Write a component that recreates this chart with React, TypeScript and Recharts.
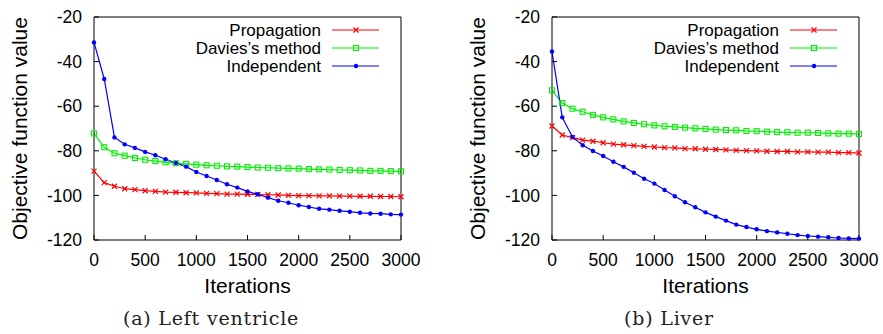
import React from "react";
import { LineChart, Line, XAxis, YAxis, Legend, Label } from "recharts";

const iterations = [
  0, 100, 200, 300, 400, 500, 600, 700, 800, 900, 1000, 1100, 1200, 1300, 1400, 1500,
  1600, 1700, 1800, 1900, 2000, 2100, 2200, 2300, 2400, 2500, 2600, 2700, 2800, 2900, 3000,
];

// (a) Left ventricle
const propLV = [
  -89.1, -94.3, -95.9, -97.0, -97.4, -97.9, -98.2, -98.5, -98.6, -98.8, -98.9, -99.1, -99.2,
  -99.4, -99.4, -99.5, -99.6, -99.7, -99.8, -100.0, -100.1, -100.1, -100.2, -100.2, -100.3,
  -100.3, -100.4, -100.4, -100.5, -100.5, -100.6,
];
const daviesLV = [
  -72.2, -78.4, -81.1, -82.2, -83.2, -84.0, -84.6, -85.2, -85.6, -85.9, -86.2, -86.5, -86.7,
  -87.0, -87.1, -87.3, -87.5, -87.6, -87.8, -87.9, -88.0, -88.2, -88.3, -88.4, -88.6, -88.7,
  -88.8, -89.0, -89.0, -89.1, -89.2,
];
const indepLV = [
  -31.4, -47.8, -74.0, -77.1, -78.7, -80.5, -82.0, -83.8, -85.5, -87.1, -89.5, -91.3, -93.1,
  -95.0, -96.5, -98.2, -99.5, -101.0, -102.4, -103.3, -104.4, -105.2, -106.0, -106.4, -106.9,
  -107.3, -107.8, -108.1, -108.2, -108.5, -108.6,
];

// (b) Liver
const propLiver = [
  -68.9, -72.9, -74.1, -75.2, -75.7, -76.4, -77.0, -77.3, -77.7, -78.0, -78.3, -78.6, -78.7,
  -79.0, -79.1, -79.3, -79.4, -79.6, -79.8, -79.9, -80.0, -80.2, -80.3, -80.3, -80.5, -80.5,
  -80.6, -80.6, -80.8, -80.8, -81.0,
];
const daviesLiver = [
  -52.9, -58.6, -61.1, -62.5, -63.9, -65.0, -65.9, -66.8, -67.5, -68.1, -68.6, -69.0, -69.3,
  -69.6, -69.9, -70.2, -70.5, -70.7, -70.8, -71.1, -71.2, -71.4, -71.6, -71.7, -71.9, -71.9,
  -72.0, -72.2, -72.3, -72.3, -72.5,
];
const indepLiver = [
  -35.5, -65.0, -73.8, -77.5, -80.1, -82.3, -84.9, -87.2, -89.8, -92.5, -94.7, -97.6, -100.4,
  -103.1, -105.3, -107.6, -109.5, -111.3, -113.1, -114.2, -115.2, -116.0, -116.6, -117.2,
  -117.8, -118.2, -118.5, -118.8, -119.1, -119.3, -119.4,
];

const xTicks = [0, 500, 1000, 1500, 2000, 2500, 3000];
const yTicks = [-120, -100, -80, -60, -40, -20];
const seriesNames = ["Propagation", "Davies\u2019s method", "Independent"];
const seriesColors = ["#ff0000", "#00f000", "#0000ff"];

const SANS = '"Liberation Sans", Arial, sans-serif';

const Marker = ({ kind, cx, cy, color }: any) => {
  if (kind === 0) {
    return (
      <path
        d={`M${cx - 2.5},${cy - 2.5}L${cx + 2.5},${cy + 2.5}M${cx - 2.5},${cy + 2.5}L${cx + 2.5},${cy - 2.5}`}
        stroke={color}
        strokeWidth={1.2}
        fill="none"
      />
    );
  }
  if (kind === 1) {
    return <rect x={cx - 2.5} y={cy - 2.5} width={5} height={5} stroke={color} strokeWidth={1.1} fill="none" />;
  }
  return <circle cx={cx} cy={cy} r={2.2} fill={color} stroke="none" />;
};

const makeDot = (kind: number) => (p: any) => (
  <g key={`m${kind}-${p.index}`}>
    <Marker kind={kind} cx={p.cx} cy={p.cy} color={seriesColors[kind]} />
  </g>
);

const LegendBox = () => (
  <div style={{ fontFamily: SANS, fontSize: 17, color: "#000" }}>
    {seriesNames.map((n, i) => (
      <div key={n} style={{ display: "flex", alignItems: "center", height: 18 }}>
        <span style={{ width: 171, textAlign: "right", whiteSpace: "nowrap", lineHeight: "17px" }}>{n}</span>
        <svg width={58} height={18} style={{ display: "block" }}>
          <line x1={11} x2={58} y1={9} y2={9} stroke={seriesColors[i]} strokeWidth={1.2} />
          <Marker kind={i} cx={35} cy={9} color={seriesColors[i]} />
        </svg>
      </div>
    ))}
  </div>
);

const Panel = ({ width, prop, davies, indep }: any) => {
  const rows = iterations.map((it, i) => ({ it, p: prop[i], d: davies[i], n: indep[i] }));
  const tickStyle = { fontFamily: SANS, fontSize: 17.5, fill: "#000" };
  return (
    <LineChart
      width={width}
      height={334}
      data={rows}
      margin={{ top: 16, right: width - 402, bottom: 34, left: 0 }}
    >
      <XAxis
        dataKey="it"
        type="number"
        domain={[0, 3000]}
        ticks={xTicks}
        tickSize={-5}
        tickMargin={19}
        height={60}
        stroke="#000"
        tick={tickStyle}
        interval={0}
      >
        <Label value="Iterations" position="center" dy={16} style={{ fontFamily: SANS, fontSize: 21, fill: "#000" }} />
      </XAxis>
      <XAxis
        xAxisId="top"
        orientation="top"
        dataKey="it"
        type="number"
        domain={[0, 3000]}
        ticks={xTicks}
        tickSize={-5}
        height={1}
        stroke="#000"
        tick={false}
        interval={0}
      />
      <YAxis
        type="number"
        domain={[-120, -20]}
        ticks={yTicks}
        tickSize={-5}
        tickMargin={17}
        width={94}
        stroke="#000"
        tick={tickStyle}
        interval={0}
      >
        <Label
          value="Objective function value"
          angle={-90}
          position="center"
          dx={-27}
          style={{ fontFamily: SANS, fontSize: 21, fill: "#000", textAnchor: "middle" }}
        />
      </YAxis>
      <YAxis
        yAxisId="right"
        orientation="right"
        type="number"
        domain={[-120, -20]}
        ticks={yTicks}
        tickSize={-5}
        width={1}
        stroke="#000"
        tick={false}
        interval={0}
      />
      <Legend
        layout="vertical"
        align="center"
        verticalAlign="middle"
        wrapperStyle={{ position: "absolute", left: 150, top: 21, width: 240, height: 54 }}
        content={() => <LegendBox />}
      />
      <Line dataKey="p" stroke={seriesColors[0]} strokeWidth={1.2} dot={makeDot(0)} isAnimationActive={false} />
      <Line dataKey="d" stroke={seriesColors[1]} strokeWidth={1.2} dot={makeDot(1)} isAnimationActive={false} />
      <Line dataKey="n" stroke={seriesColors[2]} strokeWidth={1.2} dot={makeDot(2)} isAnimationActive={false} />
    </LineChart>
  );
};

const captionStyle: React.CSSProperties = {
  position: "absolute",
  top: 307,
  width: 240,
  textAlign: "center",
  fontFamily: '"DejaVu Serif", serif',
  fontSize: 19,
  lineHeight: "22px",
  letterSpacing: 0.8,
  color: "#222",
};

export default function App() {
  return (
    <div style={{ position: "absolute", left: 0, top: 0, width: 883, height: 334, overflow: "hidden", background: "#fff" }}>
      <div style={{ position: "absolute", left: 0, top: 0 }}>
        <Panel width={458} prop={propLV} davies={daviesLV} indep={indepLV} />
      </div>
      <div style={{ position: "absolute", left: 458, top: 0 }}>
        <Panel width={425} prop={propLiver} davies={daviesLiver} indep={indepLiver} />
      </div>
      <div style={{ ...captionStyle, left: 211 - 120 }}>(a) Left ventricle</div>
      <div style={{ ...captionStyle, left: 669 - 120 }}>(b) Liver</div>
    </div>
  );
}
